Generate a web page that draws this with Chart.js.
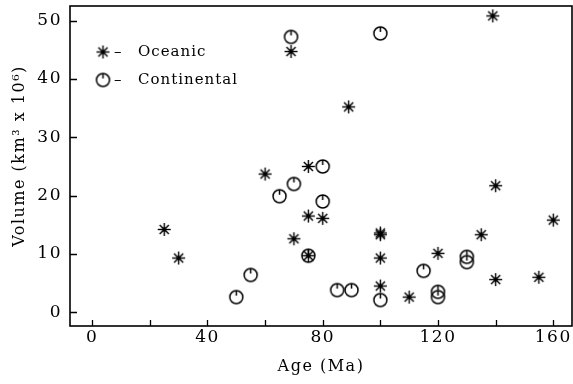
<!DOCTYPE html>
<html>
<head>
<meta charset="utf-8">
<script src="https://cdn.jsdelivr.net/npm/chart.js@4/dist/chart.umd.min.js"></script>
<style>
  html, body { margin: 0; padding: 0; background: #fff; }
</style>
</head>
<body>
<canvas id="chart" width="573" height="384"></canvas>
<script>
'use strict';

// values
const oceanicAge = [25, 30, 60, 70, 69, 75, 75, 75, 80, 89, 100, 100, 100, 100, 110, 120, 135, 139, 140, 140, 155, 160];
const oceanicVolume = [14.2, 9.3, 23.7, 12.6, 44.7, 25.0, 16.5, 9.7, 16.1, 35.2, 13.6, 13.3, 9.3, 4.5, 2.6, 10.1, 13.3, 50.8, 21.7, 5.6, 6.0, 15.8];

const continentalAge = [50, 55, 65, 70, 69, 75, 80, 80, 85, 90, 100, 100, 115, 120, 120, 130, 130];
const continentalVolume = [2.6, 6.4, 19.9, 22.0, 47.2, 9.7, 25.0, 19.0, 3.8, 3.8, 47.8, 2.1, 7.1, 3.5, 2.6, 9.5, 8.6];

const xLabelEvery = 40;
const yLabelEvery = 10;

const yTitle = 'Volume (km\u00B3 x 10\u2076)';

const FONT = '"DejaVu Serif", "Liberation Serif", serif';

function toPoints(xs, ys) {
  let pts = [];
  for (let i = 0; i < xs.length; i++) {
    pts.push({x: xs[i], y: ys[i]});
  }
  return pts;
}

// asterisk marker
function makeStar() {
  const c = document.createElement('canvas');
  c.width = 17; c.height = 17;
  const g = c.getContext('2d');
  g.translate(8.5, 8.5);
  g.strokeStyle = '#000';
  g.lineWidth = 1.4;
  for (let i = 0; i < 4; i++) {
    const a = i * Math.PI / 4;
    g.beginPath();
    g.moveTo(-6.5 * Math.cos(a), -6.5 * Math.sin(a));
    g.lineTo(6.5 * Math.cos(a), 6.5 * Math.sin(a));
    g.stroke();
  }
  g.beginPath();
  g.arc(0, 0, 2.2, 0, Math.PI * 2);
  g.fillStyle = '#000';
  g.fill();
  return c;
}

// open circle with a little tick at the top
function makeRing() {
  const c = document.createElement('canvas');
  c.width = 17; c.height = 17;
  const g = c.getContext('2d');
  g.translate(8.5, 8.5);
  g.strokeStyle = '#000';
  g.lineWidth = 1.5;
  g.beginPath();
  g.arc(0, 0, 6.5, 0, Math.PI * 2);
  g.stroke();
  g.beginPath();
  g.moveTo(0, -6.5);
  g.lineTo(0, -1.5);
  g.stroke();
  return c;
}

const starImg = makeStar();
const ringImg = makeRing();

const spacing = {
  id: 'spacing',
  beforeDraw(chart) {
    chart.ctx.letterSpacing = '1.5px';
  }
};

// box around the plot + inward tick marks + y title
const frame = {
  id: 'frame',
  afterDraw(chart) {
    const ctx = chart.ctx;
    const a = chart.chartArea;
    const xs = chart.scales.x;
    const ys = chart.scales.y;
    ctx.save();
    ctx.strokeStyle = '#000';
    ctx.lineWidth = 1.6;
    ctx.strokeRect(a.left, a.top, a.right - a.left, a.bottom - a.top);
    ctx.lineWidth = 1.3;
    ctx.beginPath();
    xs.ticks.forEach(t => {
      const px = Math.round(xs.getPixelForValue(t.value)) + 0.5;
      ctx.moveTo(px, a.bottom);
      ctx.lineTo(px, a.bottom - 6);
    });
    ys.ticks.forEach(t => {
      const py = Math.round(ys.getPixelForValue(t.value)) + 0.5;
      ctx.moveTo(a.left, py);
      ctx.lineTo(a.left + 7, py);
    });
    ctx.stroke();

    // axis title sits a bit above the middle of the plot in the original
    ctx.translate(20, 156);
    ctx.rotate(-Math.PI / 2);
    ctx.fillStyle = '#000';
    ctx.font = '16px ' + FONT;
    ctx.textAlign = 'center';
    ctx.textBaseline = 'middle';
    ctx.fillText(yTitle, 0, 0);
    ctx.restore();
  }
};

// legend in the upper left corner of the plot
const insideLegend = {
  id: 'insideLegend',
  afterDraw(chart) {
    const ctx = chart.ctx;
    const rows = [
      {img: starImg, text: chart.data.datasets[0].label, y: 52},
      {img: ringImg, text: chart.data.datasets[1].label, y: 80}
    ];
    ctx.save();
    ctx.fillStyle = '#000';
    ctx.font = '15px ' + FONT;
    ctx.letterSpacing = '1px';
    ctx.textBaseline = 'middle';
    ctx.textAlign = 'left';
    rows.forEach(r => {
      ctx.drawImage(r.img, 103 - 8.5, r.y - 8.5);
      ctx.fillText('\u2013', 114, r.y);
      ctx.fillText(r.text, 138, r.y);
    });
    ctx.restore();
  }
};

function noPad(s) {
  s.paddingTop = 0;
  s.paddingBottom = 0;
  s.paddingLeft = 0;
  s.paddingRight = 0;
}

const ctx = document.getElementById('chart');

new Chart(ctx, {
  type: 'scatter',
  data: {
    datasets: [{
      label: 'Oceanic',
      data: toPoints(oceanicAge, oceanicVolume),
      pointStyle: starImg,
      pointRadius: 8
    },
    {
      label: 'Continental',
      data: toPoints(continentalAge, continentalVolume),
      pointStyle: ringImg,
      pointRadius: 8
    }]
  },
  options: {
    responsive: false,
    animation: false,
    events: [],
    layout: {
      autoPadding: false,
      padding: {top: 6, right: 1, left: 0, bottom: 0}
    },
    plugins: {
      legend: {display: false},
      tooltip: {enabled: false}
    },
    scales: {
      x: {
        type: 'linear',
        min: -7.7,
        max: 166.5,
        grid: {display: false, drawTicks: false},
        border: {display: false},
        ticks: {
          stepSize: 20,
          includeBounds: false,
          maxRotation: 0,
          autoSkip: false,
          padding: 1,
          color: '#000',
          font: {family: FONT, size: 17},
          callback: v => (v % xLabelEvery === 0 ? v : '')
        },
        title: {
          display: true,
          text: 'Age (Ma)',
          color: '#000',
          font: {family: FONT, size: 16},
          padding: {top: 0, bottom: 8}
        },
        afterFit: s => { s.height = 58; noPad(s); }
      },
      y: {
        type: 'linear',
        min: -2.35,
        max: 52.5,
        grid: {display: false, drawTicks: false},
        border: {display: false},
        ticks: {
          stepSize: 10,
          includeBounds: false,
          autoSkip: false,
          padding: 8,
          color: '#000',
          font: {family: FONT, size: 17},
          callback: v => (v % yLabelEvery === 0 ? v : '')
        },
        afterFit: s => { s.width = 70; noPad(s); }
      }
    }
  },
  plugins: [spacing, frame, insideLegend]
});
</script>
</body>
</html>
